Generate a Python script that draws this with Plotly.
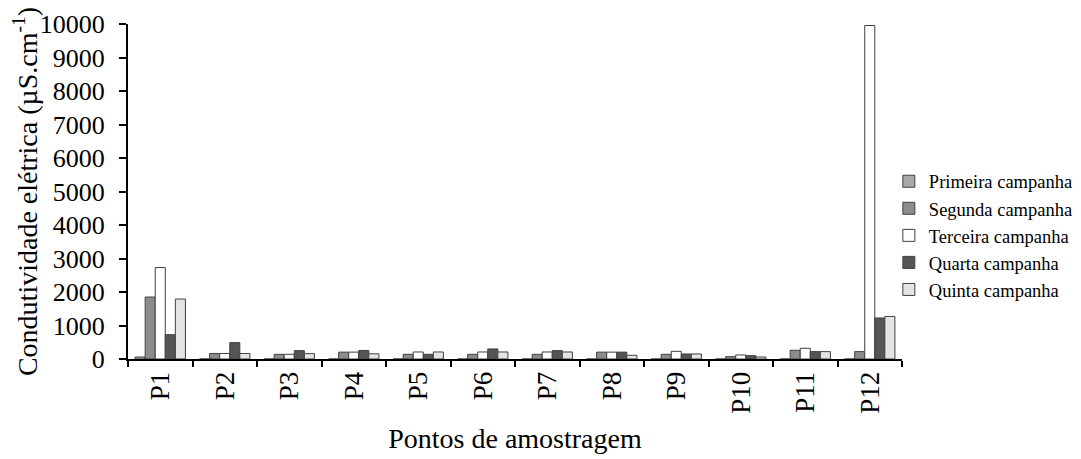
import plotly.graph_objects as go

categories = ["P1", "P2", "P3", "P4", "P5", "P6", "P7", "P8", "P9", "P10", "P11", "P12"]
series_names = ["Primeira campanha", "Segunda campanha", "Terceira campanha",
                "Quarta campanha", "Quinta campanha"]
primeira = [60, 0, 0, 0, 0, 0, 0, 0, 0, 0, 0, 0]
segunda = [1850, 165, 140, 205, 140, 140, 140, 205, 140, 70, 260, 220]
terceira = [2730, 165, 140, 205, 210, 210, 210, 205, 230, 120, 320, 9955]
quarta = [725, 490, 250, 255, 140, 300, 250, 205, 150, 100, 220, 1225]
quinta = [1790, 165, 160, 155, 210, 210, 210, 110, 150, 60, 220, 1270]
y_ticks = [0, 1000, 2000, 3000, 4000, 5000, 6000, 7000, 8000, 9000, 10000]

series_values = [primeira, segunda, terceira, quarta, quinta]
colors = ["#a8a8a8", "#8c8c8c", "#ffffff", "#555555", "#e4e4e4"]

FONT = "Liberation Serif"

fig = go.Figure()
for i, (name, vals) in enumerate(zip(series_names, series_values)):
    fig.add_trace(go.Bar(
        x=categories, y=vals, name=name, legendgroup=name,
        marker=dict(color=colors[i], line=dict(color="#404040", width=1)),
    ))

n = len(categories)
boundaries = [k - 0.5 for k in range(n + 1)]

fig.update_layout(
    width=1081, height=451,
    barmode="group", bargap=0.22, bargroupgap=0,
    plot_bgcolor="white", paper_bgcolor="white",
    margin=dict(l=120, r=187, t=16, b=100, autoexpand=False),
    font=dict(family=FONT, color="black"),
    legend=dict(
        x=0.983, xanchor="left", y=0.368, yanchor="middle",
        font=dict(family=FONT, size=18.5, color="black"),
        tracegroupgap=0, itemwidth=30,
        bgcolor="rgba(0,0,0,0)",
    ),
    xaxis=dict(
        type="category", automargin=False, range=[-0.5, n - 0.5],
        showline=True, linecolor="black", linewidth=2,
        ticks="outside", tickson="boundaries", ticklen=6, tickwidth=2, tickcolor="black",
        tickangle=-90, tickfont=dict(family=FONT, size=27, color="black"),
        title=dict(text="Pontos de amostragem", font=dict(family=FONT, size=28, color="black"), standoff=16),
    ),
    xaxis2=dict(
        overlaying="x", anchor="y", side="bottom", range=[-0.5, n - 0.5],
        tickmode="array", tickvals=boundaries, ticks="inside", ticklen=4,
        tickwidth=2, tickcolor="black", showticklabels=False,
        showline=False, showgrid=False, zeroline=False, automargin=False,
    ),
    yaxis=dict(
        range=[0, 10000], tickvals=y_ticks, ticktext=[str(v) for v in y_ticks],
        automargin=False,
        showline=True, linecolor="black", linewidth=2,
        ticks="outside", ticklen=7, tickwidth=2, tickcolor="black",
        ticklabelstandoff=9,
        showgrid=False, zeroline=False,
        tickfont=dict(family=FONT, size=26, color="black"),
        title=dict(text="Condutividade elétrica (µS.cm<sup>-1</sup>)",
                   font=dict(family=FONT, size=28, color="black"), standoff=8),
    ),
    yaxis2=dict(
        overlaying="y", anchor="x", side="left", range=[0, 10000],
        tickmode="array", tickvals=y_ticks, ticks="inside", ticklen=8,
        tickwidth=2, tickcolor="black", showticklabels=False,
        showline=False, showgrid=False, zeroline=False, automargin=False,
    ),
)

fig.write_html("out.html")
